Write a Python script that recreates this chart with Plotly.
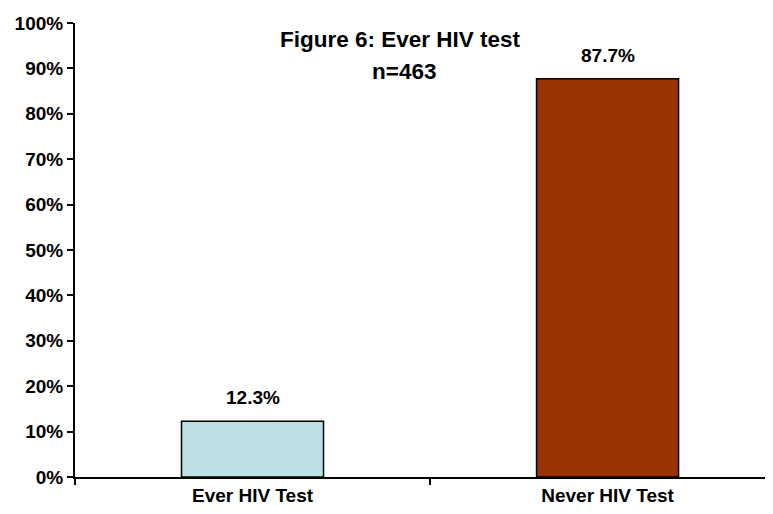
import plotly.graph_objects as go

categories = ["Ever HIV Test", "Never HIV Test"]
values = [12.3, 87.7]
bar_colors = ["#BCE0E3", "#993300"]
title_line1 = "Figure 6: Ever HIV test"
title_line2 = "n=463"
y_ticks = list(range(0, 101, 10))
y_tick_labels = [f"{v}%" for v in y_ticks]

font_family = "Liberation Sans, Arial, sans-serif"

# the page body has an 8px default margin, so the figure is sized to fit
W, H = 765, 506
L, T, B = 67, 15, 37
plot_w = W - L
plot_h = H - T - B

fig = go.Figure()
fig.add_trace(go.Bar(
    x=categories, y=values,
    marker=dict(color=bar_colors, line=dict(color="black", width=1.5)),
    width=0.40,
    hoverinfo="skip",
))

for c, v in zip(categories, values):
    fig.add_annotation(x=c, y=v, text=f"<b>{v:.1f}%</b>", showarrow=False,
                       yanchor="bottom", yshift=11,
                       font=dict(family=font_family, size=19, color="black"))

fig.add_annotation(xref="paper", yref="paper", x=(400 - 75) / plot_w, y=(plot_h - 16) / plot_h,
                   text=f"<b>{title_line1}</b>", showarrow=False,
                   yanchor="middle", xanchor="center",
                   font=dict(family=font_family, size=22.5, color="black"))
fig.add_annotation(xref="paper", yref="paper", x=(404 - 75) / plot_w, y=(plot_h - 49) / plot_h,
                   text=f"<b>{title_line2}</b>", showarrow=False,
                   yanchor="middle", xanchor="center",
                   font=dict(family=font_family, size=22.5, color="black"))

fig.update_layout(
    width=W, height=H,
    margin=dict(l=L, r=0, t=T, b=B, autoexpand=False),
    paper_bgcolor="white", plot_bgcolor="white",
    showlegend=False,
    font=dict(family=font_family, size=19, color="black"),
    xaxis=dict(
        type="category",
        range=[-0.5, 1.466],
        automargin=False,
        showline=True, linecolor="black", linewidth=2,
        ticks="outside", tickson="boundaries", ticklen=6, tickcolor="black",
        tickwidth=1.5,
        tickfont=dict(family=font_family, size=19, color="black", weight="bold"),
        showgrid=False, zeroline=False,
        fixedrange=True,
    ),
    yaxis=dict(
        range=[0, 100],
        automargin=False,
        tickvals=y_ticks, ticktext=y_tick_labels,
        showline=True, linecolor="black", linewidth=2,
        ticks="outside", ticklen=6, tickcolor="black", tickwidth=1.5,
        tickfont=dict(family=font_family, size=19, color="black", weight="bold"),
        showgrid=False, zeroline=False,
        fixedrange=True,
    ),
)

fig.write_html("out.html")
